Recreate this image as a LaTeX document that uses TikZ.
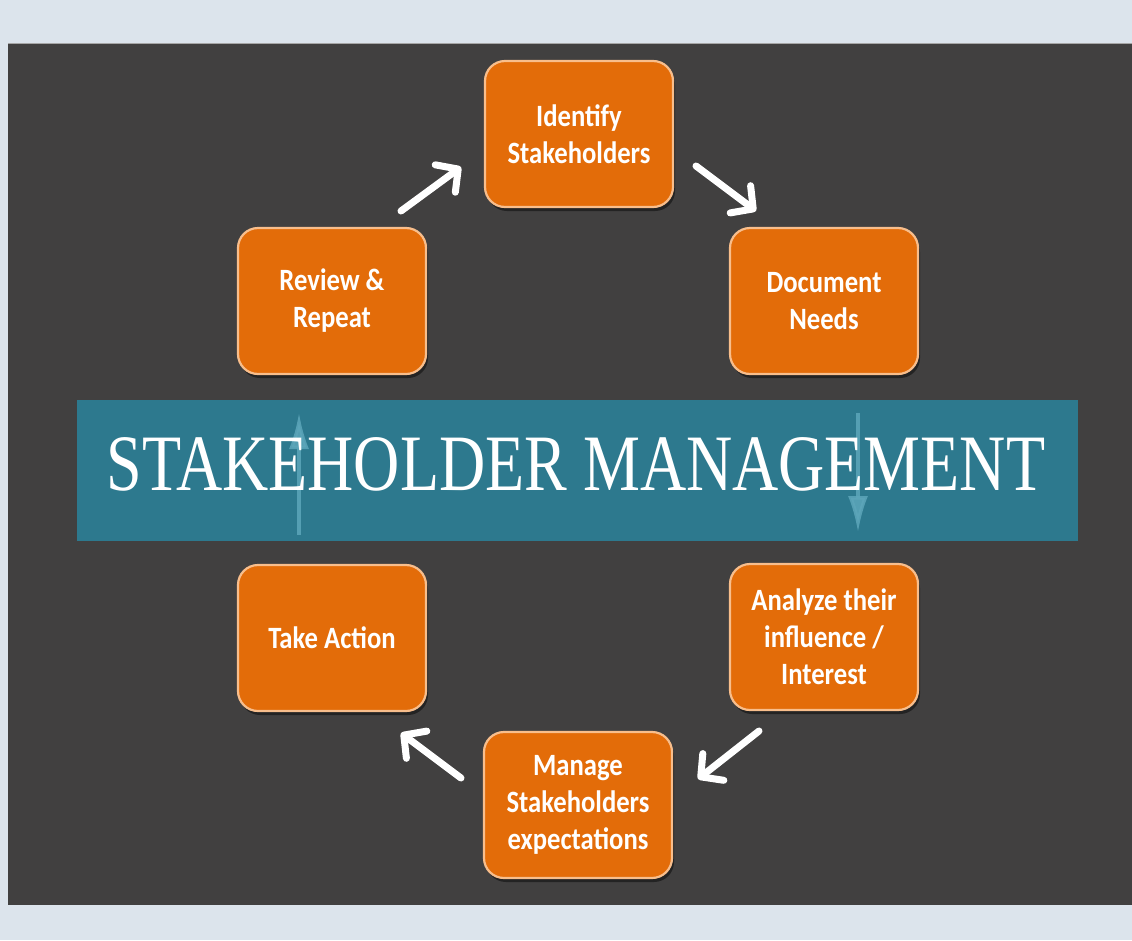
\documentclass[tikz,border=0pt]{standalone}
\usepackage{fontspec}
\usetikzlibrary{arrows.meta,shadows}
\newfontfamily\boxfont{Carlito}[FakeStretch=0.86]
\newfontfamily\titlefont{Liberation Serif}[FakeStretch=0.80]
\definecolor{frameblue}{HTML}{DCE4EC}
\definecolor{slate}{HTML}{414040}
\definecolor{bandteal}{HTML}{2D798E}
\definecolor{faintteal}{HTML}{5DA6BA}
\definecolor{stepfill}{HTML}{E36C09}
\definecolor{stepedge}{HTML}{F8BE8C}
\tikzset{
  stepbox/.style={draw=stepedge, line width=2.2pt, fill=stepfill,
    rounded corners=20pt, minimum width=188pt, minimum height=146pt,
    align=center, text=white, font=\boxfont\bfseries\fontsize{31}{37}\selectfont,
    drop shadow={shadow xshift=2pt, shadow yshift=-4pt, opacity=0.45, fill=black}},
  cyclearrow/.style={draw=white, line width=7pt, line cap=round,
    -{Straight Barb[length=16pt,width=34pt,line cap=round,line join=round]}},
  bandarrow/.style={draw=faintteal, line width=3.5pt, opacity=0.85,
    -{Latex[length=36pt,width=20pt]}},
}
\begin{document}
\begin{tikzpicture}[x=1pt,y=-1pt]
  \useasboundingbox (0,0) rectangle (1132,940);
  % frame and dark panel
  \fill[frameblue] (0,0) rectangle (1132,940);
  \fill[slate] (8,43) rectangle (1132,905);
  \draw[gray!70, line width=1.5pt] (8,43.5) -- (1132,43.5);

  % title band
  \fill[bandteal] (77,400) rectangle (1078,541);
  \coordinate (upfoot) at (299,535);
  \coordinate (uphead) at (299,413);
  \coordinate (downfoot) at (858,413);
  \coordinate (downhead) at (858,532);
  \draw[bandarrow] (upfoot) -- (uphead);
  \draw[bandarrow] (downfoot) -- (downhead);
  \node[anchor=base, text=white, font=\titlefont\fontsize{80}{80}\selectfont]
    (title) at (576,490) {STAKEHOLDER MANAGEMENT};

  % process steps
  \node[stepbox] (identify) at (579,134) {Identify\\Stakeholders};
  \node[stepbox] (document) at (824,301) {Document\\Needs};
  \node[stepbox] (analyze)  at (824,637) {Analyze their\\influence /\\Interest};
  \node[stepbox] (manage)   at (578,805) {Manage\\Stakeholders\\expectations};
  \node[stepbox] (action)   at (332,638) {Take Action};
  \node[stepbox] (review)   at (332,301) {Review \&\\Repeat};

  % cycle arrows between the steps
  \coordinate (r2i) at (401,211);  \coordinate (r2ihead) at (461,167);
  \coordinate (i2d) at (696,166);  \coordinate (i2dhead) at (756,211);
  \coordinate (a2m) at (759,731);  \coordinate (a2mhead) at (698,779);
  \coordinate (m2t) at (461,778);  \coordinate (m2thead) at (401,733);
  \draw[cyclearrow] (r2i) -- (r2ihead);
  \draw[cyclearrow] (i2d) -- (i2dhead);
  \draw[cyclearrow] (a2m) -- (a2mhead);
  \draw[cyclearrow] (m2t) -- (m2thead);
\end{tikzpicture}
\end{document}
